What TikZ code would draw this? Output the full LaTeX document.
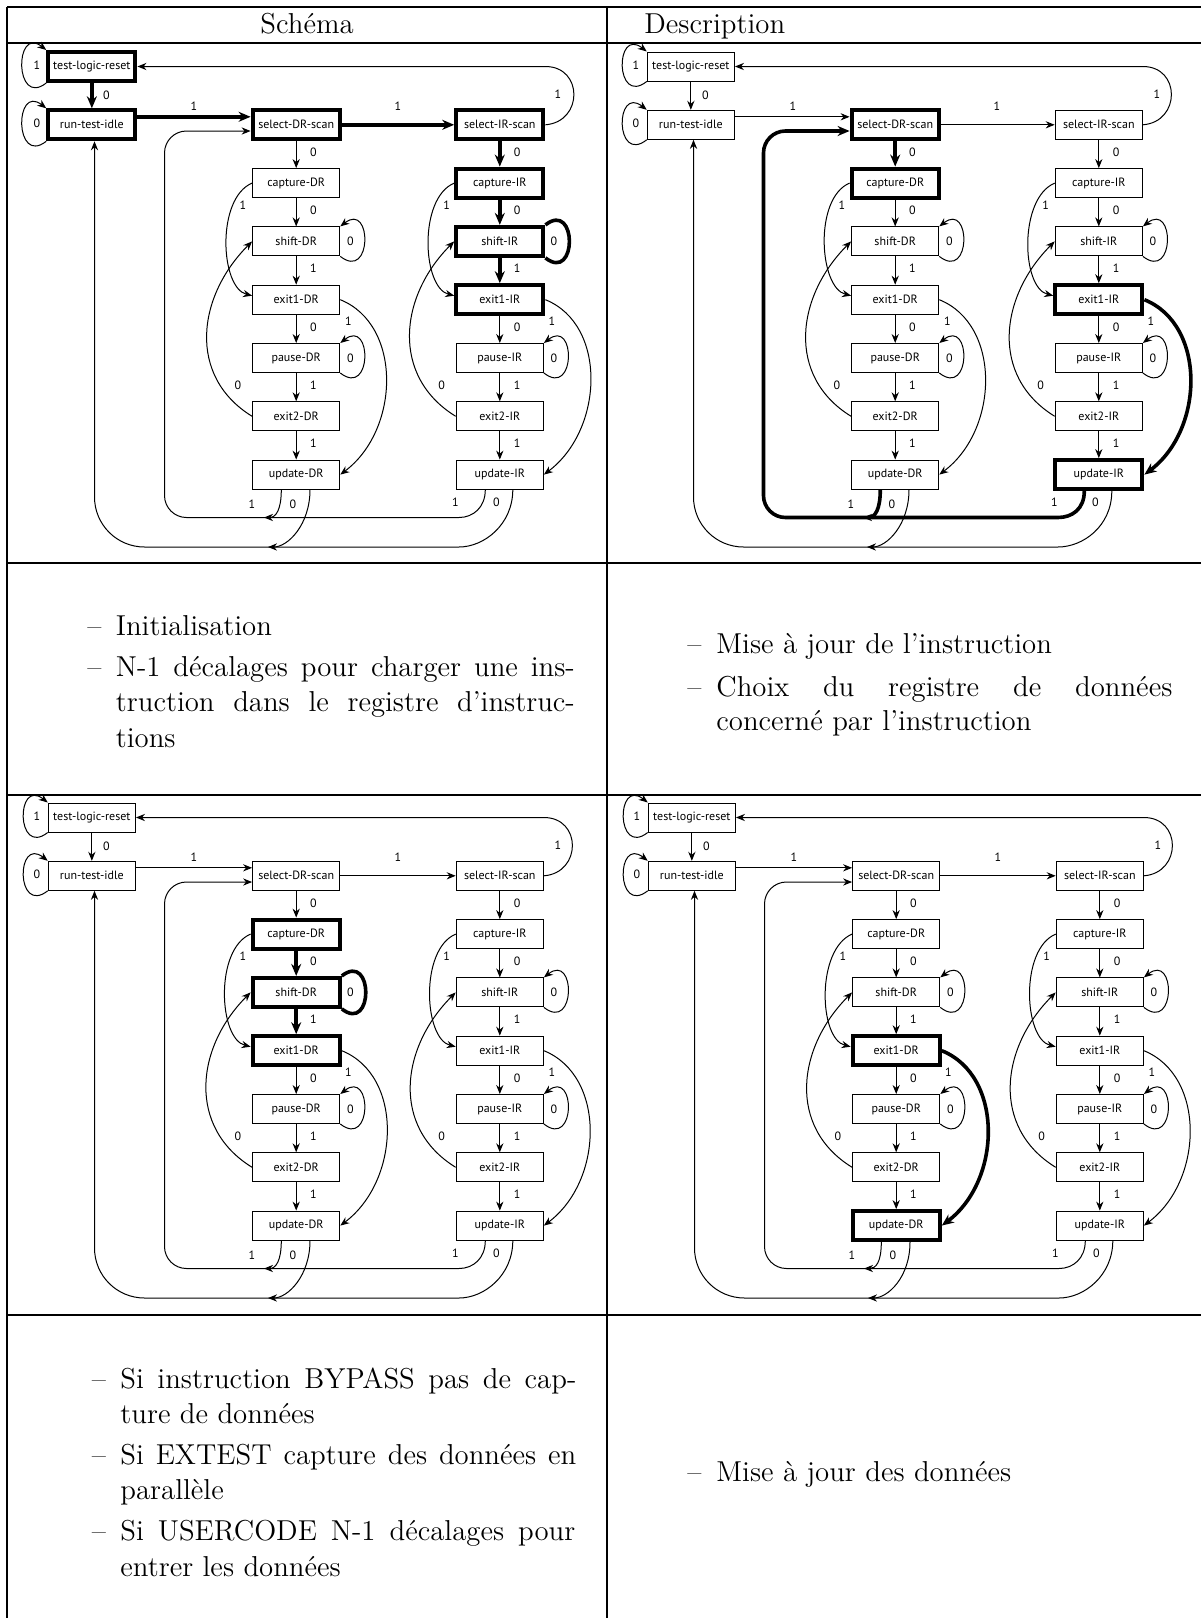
\documentclass[tikz,border=0pt]{standalone}
\usepackage{fontspec}
\newfontfamily\boxfont{PT Sans}
\usetikzlibrary{arrows.meta}

\tikzset{
  box/.style={draw, line width=0.5pt, minimum width=43.6pt, minimum height=14.5pt, inner sep=0pt,
    font=\boxfont\fontsize{6}{7}\selectfont},
  hlbox/.style={line width=2pt},
  conn/.style={line width=0.5pt, -{Stealth[length=4.5pt,width=3.6pt]}},
  hlconn/.style={line width=1.8pt, -{Stealth[length=6pt,width=5pt]}},
  hlloop/.style={line width=1.8pt, arrows=-},
  lbl/.style={font=\boxfont\fontsize{6}{7}\selectfont, inner sep=0pt},
  txt/.style={font=\fontsize{14.4}{17.5}\selectfont, inner sep=0pt, anchor=base west},
  tablerule/.style={line width=0.55pt},
  htlr/.style={}, hrti/.style={}, hsdr/.style={}, hsir/.style={},
  hcdr/.style={}, hcir/.style={}, hshdr/.style={}, hshir/.style={},
  heodr/.style={}, heoir/.style={}, hudr/.style={}, huir/.style={},
  Etlrrti/.style={}, Ertisdr/.style={}, Esdrsir/.style={}, Esircir/.style={},
  Ecirshir/.style={}, Eshir/.style={}, Eshireoir/.style={},
  Esdrcdr/.style={}, Eeoiruir/.style={}, Euirone/.style={}, Eudrone/.style={},
  Ecdrshdr/.style={}, Eshdr/.style={}, Eshdreodr/.style={}, Eeodrudr/.style={},
}

\newcommand\jtagdiagram[1]{%
\node[box,htlr] (#1tlr) at (91.85,66.5) {test-logic-reset};
\node[box,hrti] (#1rti) at (91.85,124.8) {run-test-idle};
\node[box,hsdr] (#1sdr) at (296.2,124.8) {select-DR-scan};
\node[box,hsir] (#1sir) at (499.8,124.8) {select-IR-scan};
\node[box,hcdr] (#1cdr) at (296.2,183.1) {capture-DR};
\node[box,hcir] (#1cir) at (499.8,183.1) {capture-IR};
\node[box,hshdr] (#1shdr) at (296.2,241.4) {shift-DR};
\node[box,hshir] (#1shir) at (499.8,241.4) {shift-IR};
\node[box,heodr] (#1eodr) at (296.2,299.7) {exit1-DR};
\node[box,heoir] (#1eoir) at (499.8,299.7) {exit1-IR};
\node[box] (#1pdr) at (296.2,358) {pause-DR};
\node[box] (#1pir) at (499.8,358) {pause-IR};
\node[box] (#1etdr) at (296.2,416.3) {exit2-DR};
\node[box] (#1etir) at (499.8,416.3) {exit2-IR};
\node[box,hudr] (#1udr) at (296.2,474.6) {update-DR};
\node[box,huir] (#1uir) at (499.8,474.6) {update-IR};
\coordinate (#1jin) at (264,517.5);
\coordinate (#1jout) at (268,547);
\coordinate (#1ir) at (459,517.5);
\coordinate (#1or) at (459,547);
\coordinate (#1ix) at (164.5,131);
\coordinate (#1ox) at (94.5,547);
% self loops
\draw[conn] (#1tlr.south west) .. controls +(-32,25) and +(-32,-25) .. (#1tlr.north west);
\draw[conn] (#1rti.south west) .. controls +(-32,25) and +(-32,-25) .. (#1rti.north west);
\draw[conn,Eshdr] (#1shdr.south east) .. controls +(32,25) and +(32,-25) .. (#1shdr.north east);
\draw[conn,Eshir] (#1shir.south east) .. controls +(32,25) and +(32,-25) .. (#1shir.north east);
\draw[conn] (#1pdr.south east) .. controls +(32,25) and +(32,-25) .. (#1pdr.north east);
\draw[conn] (#1pir.south east) .. controls +(32,25) and +(32,-25) .. (#1pir.north east);
% top
\draw[conn,Etlrrti] (#1tlr) -- (#1rti);
\draw[conn,Ertisdr] ([yshift=4pt]#1rti.east) -- ([yshift=4pt]#1sdr.west);
\draw[conn,Esdrsir] (#1sdr) -- (#1sir);
\draw[conn] (#1sir.east) .. controls +(38,-3) and +(38,0) .. (#1sir.east |- #1tlr.east) -- (#1tlr.east);
% DR column
\draw[conn,Esdrcdr] (#1sdr) -- (#1cdr);
\draw[conn,Ecdrshdr] (#1cdr) -- (#1shdr);
\draw[conn,Eshdreodr] (#1shdr) -- (#1eodr);
\draw[conn] (#1eodr) -- (#1pdr);
\draw[conn] (#1pdr) -- (#1etdr);
\draw[conn] (#1etdr) -- (#1udr);
% IR column
\draw[conn,Esircir] (#1sir) -- (#1cir);
\draw[conn,Ecirshir] (#1cir) -- (#1shir);
\draw[conn,Eshireoir] (#1shir) -- (#1eoir);
\draw[conn] (#1eoir) -- (#1pir);
\draw[conn] (#1pir) -- (#1etir);
\draw[conn] (#1etir) -- (#1uir);
% side curves
\draw[conn] (#1cdr.west) .. controls +(-36,15) and +(-32,-8) .. ([yshift=2pt]#1eodr.west);
\draw[conn] (#1etdr.west) .. controls +(-65,-40) and +(-55,55) .. (#1shdr.west);
\draw[conn,Eeodrudr] (#1eodr.east) .. controls +(62,25) and +(60,-45) .. (#1udr.east);
\draw[conn] (#1cir.west) .. controls +(-36,15) and +(-32,-8) .. ([yshift=2pt]#1eoir.west);
\draw[conn] (#1etir.west) .. controls +(-65,-40) and +(-55,55) .. (#1shir.west);
\draw[conn,Eeoiruir] (#1eoir.east) .. controls +(62,25) and +(60,-45) .. (#1uir.east);
% bottom returns
\draw[conn,Eudrone] ([xshift=-7.45pt]#1udr.south) .. controls +(0,20) and +(12,0) .. (#1jin);
\draw[conn] ([xshift=6.9pt]#1udr.south) .. controls +(0,35) and +(20,0) .. (#1jout);
\draw[conn,Euirone] ([xshift=-7.25pt]#1uir.south) .. controls +(0,18) and +(14,0) .. (#1ir)
   -- ([xshift=-1pt]#1ir) [rounded corners=11pt] -- (#1ix |- #1ir) -- (#1ix) -- (#1sdr.west |- #1ix);
\draw[conn] ([xshift=6.5pt]#1uir.south) .. controls +(0,35) and +(25,0) .. (#1or)
   -- ([xshift=-1pt]#1or) [rounded corners=25pt] -- (#1ox) -- (#1ox |- #1rti.south);
% labels
\node[lbl] (#1la) at (37,65) {1};
\node[lbl] (#1lb) at (37,123.5) {0};
\node[lbl] (#1lc) at (106.5,95) {0};
\node[lbl] (#1ld) at (194,106) {1};
\node[lbl] (#1le) at (398,106) {1};
\node[lbl] (#1lf) at (558,94) {1};
\node[lbl] (#1lg) at (313.5,152) {0};
\node[lbl] (#1lh) at (313.5,210.5) {0};
\node[lbl] (#1li) at (313.5,268.5) {1};
\node[lbl] (#1lj) at (313.5,327) {0};
\node[lbl] (#1lk) at (313.5,385) {1};
\node[lbl] (#1ll) at (313.5,443.5) {1};
\node[lbl] (#1lm) at (517.1,152) {0};
\node[lbl] (#1ln) at (517.1,210.5) {0};
\node[lbl] (#1lo) at (517.1,268.5) {1};
\node[lbl] (#1lp) at (517.1,327) {0};
\node[lbl] (#1lq) at (517.1,385) {1};
\node[lbl] (#1lr) at (517.1,443.5) {1};
\node[lbl] (#1ls) at (350.5,241.4) {0};
\node[lbl] (#1lt) at (350.5,358) {0};
\node[lbl] (#1lu) at (554,241.4) {0};
\node[lbl] (#1lv) at (554,358) {0};
\node[lbl] (#1lw) at (243,205) {1};
\node[lbl] (#1lx) at (238,385) {0};
\node[lbl] (#1ly) at (348.5,321) {1};
\node[lbl] (#1lz) at (446.6,205) {1};
\node[lbl] (#1lA) at (441.6,385) {0};
\node[lbl] (#1lB) at (552,321) {1};
\node[lbl] (#1lC) at (252,504) {1};
\node[lbl] (#1lD) at (293,504) {0};
\node[lbl] (#1lE) at (455.5,502) {1};
\node[lbl] (#1lF) at (496.5,502) {0};
}

\begin{document}
\begin{tikzpicture}[x=0.5pt,y=-0.5pt]
\useasboundingbox (0,0) rectangle (1201,1618);
\fill[white] (0,0) rectangle (1201,1618);
% table rules
\draw[tablerule] (7,7) -- (1201,7);
\draw[tablerule] (7,43) -- (1201,43);
\draw[tablerule] (7,563) -- (1201,563);
\draw[tablerule] (7,795) -- (1201,795);
\draw[tablerule] (7,1315) -- (1201,1315);
\draw[tablerule] (7,7) -- (7,1618);
\draw[tablerule] (607,7) -- (607,1618);
% headers
\node[txt, anchor=base] (hschema) at (307,33.5) {Schéma};
\node[txt] (hdescr) at (644,33.5) {Description};
% diagrams
\begin{scope}[htlr/.style=hlbox, hrti/.style=hlbox, hsdr/.style=hlbox, hsir/.style=hlbox,
  hcir/.style=hlbox, hshir/.style=hlbox, heoir/.style=hlbox,
  Etlrrti/.style=hlconn, Ertisdr/.style=hlconn, Esdrsir/.style=hlconn, Esircir/.style=hlconn,
  Ecirshir/.style=hlconn, Eshir/.style=hlloop, Eshireoir/.style=hlconn]
\jtagdiagram{a}
\end{scope}
\begin{scope}[shift={(599,0)}, hsdr/.style=hlbox, hcdr/.style=hlbox, heoir/.style=hlbox, huir/.style=hlbox,
  Esdrcdr/.style=hlconn, Eeoiruir/.style=hlconn, Euirone/.style=hlconn, Eudrone/.style={line width=1.8pt}]
\jtagdiagram{b}
\end{scope}
\begin{scope}[shift={(0,751)}, hcdr/.style=hlbox, hshdr/.style=hlbox, heodr/.style=hlbox,
  Ecdrshdr/.style=hlconn, Eshdr/.style=hlloop, Eshdreodr/.style=hlconn]
\jtagdiagram{c}
\end{scope}
\begin{scope}[shift={(600,751)}, heodr/.style=hlbox, hudr/.style=hlbox, Eeodrudr/.style=hlconn]
\jtagdiagram{d}
\end{scope}
% row 2 text
\node[txt] (ta1) at (87,635) {–};
\node[txt] (ta2) at (115.5,635) {Initialisation};
\node[txt] (ta3) at (87,676) {–};
\node[txt] (ta4) at (115.5,676) {\makebox[229.5pt][s]{N-1 décalages pour charger une ins-}};
\node[txt] (ta5) at (115.5,711) {\makebox[229.5pt][s]{truction dans le registre d’instruc-}};
\node[txt] (ta6) at (115.5,747) {tions};
\node[txt] (tb1) at (687,653) {–};
\node[txt] (tb2) at (716,653) {Mise à jour de l’instruction};
\node[txt] (tb3) at (687,696) {–};
\node[txt] (tb4) at (716,696) {\makebox[228pt][s]{Choix du registre de données}};
\node[txt] (tb5) at (716,730) {concerné par l’instruction};
% row 4 text
\node[txt] (tc1) at (91.5,1388) {–};
\node[txt] (tc2) at (120,1388) {\makebox[228pt][s]{Si instruction BYPASS pas de cap-}};
\node[txt] (tc3) at (120,1423) {ture de données};
\node[txt] (tc4) at (91.5,1464) {–};
\node[txt] (tc5) at (120,1464) {\makebox[228pt][s]{Si EXTEST capture des données en}};
\node[txt] (tc6) at (120,1499) {parallèle};
\node[txt] (tc7) at (91.5,1540) {–};
\node[txt] (tc8) at (120,1540) {\makebox[227.5pt][s]{Si USERCODE N-1 décalages pour}};
\node[txt] (tc9) at (120,1576) {entrer les données};
\node[txt] (td1) at (687,1481) {–};
\node[txt] (td2) at (716,1481) {Mise à jour des données};
\end{tikzpicture}
\end{document}
